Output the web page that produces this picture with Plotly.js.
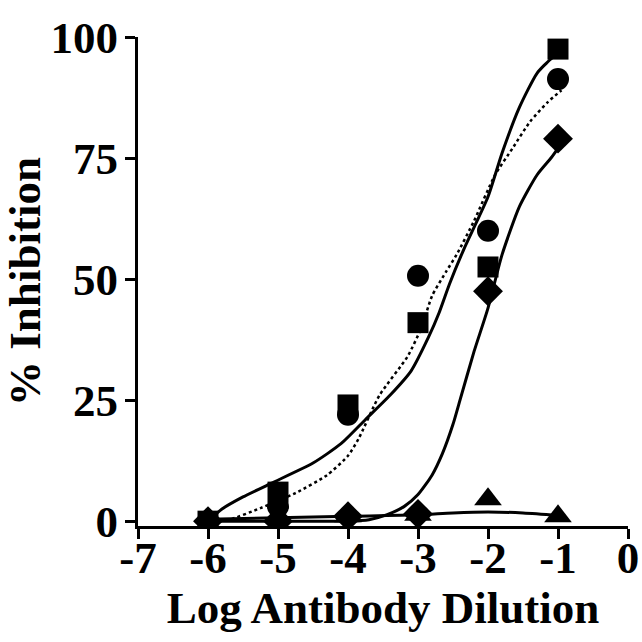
<!DOCTYPE html>
<html>
<head>
<meta charset="utf-8">
<script src="https://cdn.plot.ly/plotly-3.0.1.min.js"></script>
<style>html,body{margin:0;padding:0;background:#fff;}#chart{width:642px;height:642px;}</style>
</head>
<body>
<div id="chart"></div>
<script>
// Measured points
const doseX = [-6, -5, -4, -3, -2, -1];
const squareY = [0, 6, 24, 41, 52.5, 97.5];
const circleY = [0, 3, 22, 50.7, 60, 91.3];
const diamondY = [0, 0, 1, 1.5, 47.5, 79];
const triangleX = [-4, -3, -2, -1];
const triangleY = [1, 1.3, 4.5, 1];

// Fitted curves
const squareCurveX = [-6.0, -5.8, -5.5, -5.1, -4.5, -4.1, -3.75, -3.4, -3.1, -2.85, -2.7, -2.55, -2.35, -2.0, -1.8, -1.55, -1.3, -1.1, -1.0];
const squareCurveY = [0, 2.5, 5, 7.8, 12, 16, 21, 26, 31, 38, 43, 49, 56, 67, 76, 85.5, 92.5, 95.5, 96.5];
const circleCurveX = [-6.0, -5.7, -5.25, -4.75, -4.3, -4.0, -3.85, -3.55, -3.15, -2.95, -2.8, -2.6, -2.45, -2.2, -1.9, -1.65, -1.4, -1.15, -0.95];
const circleCurveY = [0, 0.3, 2.7, 5.8, 9.5, 13.5, 17, 26, 34, 40, 46.5, 51.5, 55, 62, 71.5, 77, 82.5, 86.5, 89];
const diamondCurveX = [-6.0, -5.0, -4.0, -3.7, -3.45, -3.2, -3.0, -2.8, -2.65, -2.5, -2.4, -2.2, -2.0, -1.8, -1.55, -1.3, -1.1, -1.0];
const diamondCurveY = [0, 0, 0, 0.3, 1.3, 3.0, 5.5, 9.5, 14, 20, 25, 35, 44, 55, 65, 71.5, 75, 77];
const triangleCurveX = [-6, -5, -4, -3, -2.5, -2, -1.5, -1];
const triangleCurveY = [0.4, 0.7, 1.0, 1.3, 1.7, 1.9, 1.7, 1.2];

const xTickVals = [-7, -6, -5, -4, -3, -2, -1, 0];
const xTickText = ["-7", "-6", "-5", "-4", "-3", "-2", "-1", "0"];
const yTickVals = [0, 25, 50, 75, 100];
const yTickText = ["0", "25", "50", "75", "100"];

const serif = 'Liberation Serif, Times New Roman, serif';
const traces = [
  {x: triangleCurveX, y: triangleCurveY, mode: 'lines', line: {color: '#000', width: 3, shape: 'spline', smoothing: 0.8}, hoverinfo: 'skip'},
  {x: diamondCurveX, y: diamondCurveY, mode: 'lines', line: {color: '#000', width: 3, shape: 'spline', smoothing: 0.6}, hoverinfo: 'skip'},
  {x: circleCurveX, y: circleCurveY, mode: 'lines', line: {color: '#000', width: 2.5, dash: 'dot', shape: 'spline', smoothing: 0.6}, hoverinfo: 'skip'},
  {x: squareCurveX, y: squareCurveY, mode: 'lines', line: {color: '#000', width: 3, shape: 'spline', smoothing: 0.6}, hoverinfo: 'skip'},
  {x: triangleX, y: triangleY, mode: 'markers', marker: {symbol: 'triangle-up', size: 24, color: '#000'}},
  {x: doseX, y: diamondY, mode: 'markers', marker: {symbol: 'diamond', size: 23, color: '#000'}},
  {x: doseX, y: circleY, mode: 'markers', marker: {symbol: 'circle', size: 22, color: '#000'}},
  {x: doseX, y: squareY, mode: 'markers', marker: {symbol: 'square', size: 21, color: '#000'}}
];

const tickFont = {family: serif, size: 45, color: '#000', weight: 'bold'};
const layout = {
  width: 642, height: 642,
  margin: {l: 138, r: 14, t: 37, b: 116},
  paper_bgcolor: '#fff', plot_bgcolor: '#fff',
  showlegend: false,
  xaxis: {
    range: [-7, 0], tickvals: xTickVals, ticktext: xTickText,
    showgrid: false, zeroline: false, showline: true, linecolor: '#000', linewidth: 3,
    ticks: 'outside', ticklen: 10, tickwidth: 3, tickcolor: '#000',
    tickfont: tickFont, automargin: false, ticklabelstandoff: -20,
    title: {text: 'Log Antibody Dilution', font: {family: serif, size: 45, color: '#000', weight: 'bold'}, standoff: 0}
  },
  yaxis: {
    range: [-1, 100], tickvals: yTickVals, ticktext: yTickText,
    showgrid: false, zeroline: false, showline: true, linecolor: '#000', linewidth: 3,
    ticks: 'outside', ticklen: 10, tickwidth: 3, tickcolor: '#000',
    tickfont: tickFont, automargin: false, ticklabelstandoff: -2,
    title: {text: '% Inhibition', font: {family: serif, size: 45, color: '#000', weight: 'bold'}, standoff: 0}
  }
};

Plotly.newPlot('chart', traces, layout, {displayModeBar: false, staticPlot: true});
</script>
</body>
</html>
